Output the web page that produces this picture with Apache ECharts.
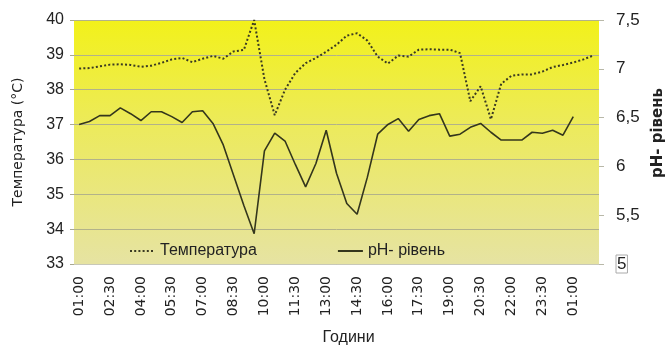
<!DOCTYPE html>
<html>
<head>
<meta charset="utf-8">
<script src="https://cdn.jsdelivr.net/npm/echarts@6/dist/echarts.min.js"></script>
<style>html,body{margin:0;padding:0;background:#fff;}#c{width:669px;height:350px;}</style>
</head>
<body>
<div id="c"></div>
<script>
var categories = ['01:00','01:30','02:00','02:30','03:00','03:30','04:00','04:30','05:00','05:30',
  '06:00','06:30','07:00','07:30','08:00','08:30','09:00','09:30','10:00','10:30',
  '11:00','11:30','12:00','12:30','13:00','13:30','14:00','14:30','15:00','15:30',
  '16:00','16:30','17:00','17:30','18:00','18:30','19:00','19:30','20:00','20:30',
  '21:00','21:30','22:00','22:30','23:00','23:30','00:00','00:30','01:00','01:30','02:00'];
var temperature = [38.61,38.62,38.67,38.72,38.73,38.71,38.66,38.69,38.77,38.87,
  38.91,38.79,38.89,38.97,38.89,39.10,39.14,40.0,38.30,37.27,
  38.0,38.48,38.76,38.91,39.09,39.29,39.55,39.62,39.41,38.95,
  38.75,38.98,38.95,39.15,39.16,39.15,39.15,39.05,37.67,38.10,
  37.15,38.17,38.40,38.44,38.44,38.52,38.65,38.71,38.78,38.87,38.99];
var ph = [6.43,6.46,6.52,6.52,6.60,6.54,6.47,6.56,6.56,6.51,
  6.45,6.56,6.57,6.44,6.22,5.91,5.60,5.31,6.16,6.34,
  6.26,6.02,5.79,6.03,6.37,5.93,5.62,5.51,5.89,6.33,
  6.43,6.49,6.36,6.48,6.52,6.54,6.31,6.33,6.40,6.44,
  6.35,6.27,6.27,6.27,6.35,6.34,6.37,6.32,6.51,'-','-'];
var tempTicks = {min: 33, max: 40, interval: 1};
var phTicks = {min: 5, max: 7.5, interval: 0.5};

var chart = echarts.init(document.getElementById('c'));
var font = 'Liberation Sans, Arial, sans-serif';
chart.setOption({
  animation: false,
  backgroundColor: '#ffffff',
  textStyle: {fontFamily: font},
  grid: {
    left: 74, right: 70, top: 20, bottom: 86, show: true, borderWidth: 0,
    outerBoundsMode: 'none', containLabel: false,
    backgroundColor: new echarts.graphic.LinearGradient(0, 0, 0, 1, [
      {offset: 0, color: '#f2f11a'},
      {offset: 0.45, color: '#ecea5e'},
      {offset: 1, color: '#e6e3a2'}
    ])
  },
  legend: {
    left: 124, top: 238, itemWidth: 25, itemHeight: 12, itemGap: 80,
    itemStyle: {opacity: 0},
    textStyle: {fontFamily: font, fontSize: 16, color: '#222'},
    data: ['Температура', 'pH- рівень']
  },
  xAxis: {
    type: 'category', data: categories, boundaryGap: true,
    name: 'Години', nameLocation: 'middle', nameGap: 66,
    nameTextStyle: {fontFamily: 'Liberation Sans Narrow, Liberation Sans, sans-serif', fontSize: 16, color: '#222', padding: [0, 0, 0, 24]},
    axisLine: {lineStyle: {color: '#c8c8b8', width: 1}},
    axisTick: {interval: 0, length: 3, lineStyle: {color: '#b0b0a0'}},
    axisLabel: {interval: 2, rotate: 90, fontFamily: 'DejaVu Sans, sans-serif', fontSize: 14, color: '#222', margin: 12},
    splitLine: {show: false}
  },
  yAxis: [{
    type: 'value', min: tempTicks.min, max: tempTicks.max, interval: tempTicks.interval,
    name: 'Температура (°C)', nameLocation: 'middle', nameGap: 49, nameRotate: 90,
    nameTextStyle: {fontFamily: 'DejaVu Sans, sans-serif', fontSize: 14, color: '#222'},
    axisLine: {show: false},
    axisTick: {show: true, length: 4, lineStyle: {color: '#a8a890'}},
    axisLabel: {fontSize: 16, color: '#222', margin: 10},
    splitLine: {lineStyle: {color: '#b2b28a', width: 1}}
  }, {
    type: 'value', min: phTicks.min, max: phTicks.max, interval: phTicks.interval,
    name: 'pH- рівень', nameLocation: 'middle', nameGap: 45, nameRotate: 90,
    nameTextStyle: {fontFamily: 'DejaVu Sans, sans-serif', fontSize: 15, fontWeight: 'bold', color: '#222', padding: [0, 0, 0, 18]},
    axisLine: {show: false},
    axisTick: {show: true, length: 5, lineStyle: {color: '#b8b8a8'}},
    axisLabel: {fontSize: 17, color: '#222', margin: 17,
      formatter: function (v) { var s = String(v).replace('.', ','); return v === 5 ? '{b|' + s + '}' : s; },
      rich: {b: {fontSize: 17, color: '#222', borderColor: '#aaa', borderWidth: 1, padding: [1, 1, 0, 1]}}
    },
    splitLine: {show: false}
  }],
  series: [{
    name: 'Температура', type: 'line', yAxisIndex: 0, data: temperature,
    symbol: 'none', smooth: false,
    lineStyle: {color: '#3a3a22', width: 2, type: [2, 2.2]},
    itemStyle: {color: '#3a3a22'}
  }, {
    name: 'pH- рівень', type: 'line', yAxisIndex: 1, data: ph,
    symbol: 'none', smooth: false,
    lineStyle: {color: '#34361c', width: 1.6},
    itemStyle: {color: '#34361c'}
  }]
});
</script>
</body>
</html>
